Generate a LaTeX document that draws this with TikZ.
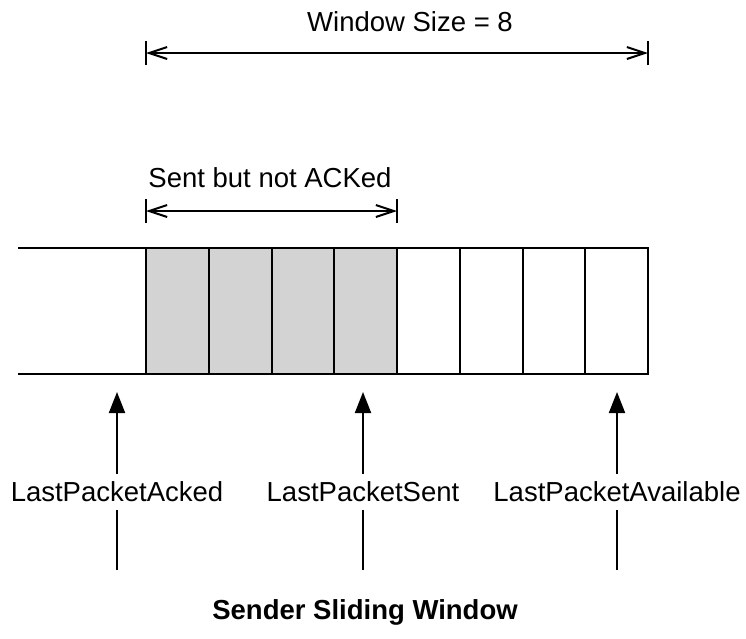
\documentclass[tikz,border=0pt]{standalone}
\usepackage{fontspec}
\setmainfont{Liberation Sans}
\usetikzlibrary{arrows.meta}
\definecolor{sentgray}{HTML}{D3D3D3}
\tikzset{
  cell/.style={draw=black, line width=2pt, minimum width=62.75pt, minimum height=126pt, inner sep=0pt, outer sep=0pt},
  sentcell/.style={cell, fill=sentgray},
  lbl/.style={font=\fontsize{27.5}{33}\selectfont, inner sep=0pt},
  ttl/.style={font=\fontsize{27.5}{33}\selectfont\bfseries, inner sep=0pt},
  spanboth/.style={line width=2pt, {Straight Barb[length=18pt,width=12pt,line width=2pt]}-{Straight Barb[length=18pt,width=12pt,line width=2pt]}},
  barline/.style={line width=2.5pt},
  ptr/.style={line width=2pt, -{Triangle[length=21pt,width=16pt]}},
  ptrline/.style={line width=2pt}
}
\begin{document}
\begin{tikzpicture}[x=1pt,y=-1pt]
\useasboundingbox (0,0) rectangle (746,638);
% cells
\foreach \i/\st in {1/sentcell,2/sentcell,3/sentcell,4/sentcell,5/cell,6/cell,7/cell,8/cell}{
  \node[\st] (c\i) at ({146+62.75*(\i-0.5)},311) {};
}
% left open region
\coordinate (lt) at (18,248);
\coordinate (lb) at (18,374);
\draw[line width=2pt] (lt) -- (c1.north west);
\draw[line width=2pt] (lb) -- (c1.south west);
% window size arrow
\coordinate (wl) at (c1.west |- 0,53);
\coordinate (wr) at (c8.east |- 0,53);
\draw[spanboth] (wl) -- (wr);
\draw[barline] ([yshift=-12pt]wl) -- ([yshift=12pt]wl);
\draw[barline] ([yshift=-12pt]wr) -- ([yshift=12pt]wr);
\node[lbl] (wlab) at (410,22) {Window Size = 8};
% sent but not acked arrow
\coordinate (sl) at (c1.west |- 0,211);
\coordinate (sr) at (c4.east |- 0,211);
\draw[spanboth] (sl) -- (sr);
\draw[barline] ([yshift=-12pt]sl) -- ([yshift=12pt]sl);
\draw[barline] ([yshift=-12pt]sr) -- ([yshift=12pt]sr);
\node[lbl] (slab) at (270,178) {Sent but not ACKed};
% pointers
\node[lbl] (pa) at (117,492) {LastPacketAcked};
\node[lbl] (ps) at (363,492) {LastPacketSent};
\node[lbl] (pv) at (617,492) {LastPacketAvailable};
\coordinate (pat) at (117,392);
\coordinate (pst) at (363,392);
\coordinate (pvt) at (617,392);
\coordinate (pab) at (117,570);
\coordinate (psb) at (363,570);
\coordinate (pvb) at (617,570);
\draw[ptr] ([yshift=8pt]pa.north) -- (pat);
\draw[ptr] ([yshift=8pt]ps.north) -- (pst);
\draw[ptr] ([yshift=8pt]pv.north) -- (pvt);
\draw[ptrline] ([yshift=-8pt]pa.south) -- (pab);
\draw[ptrline] ([yshift=-8pt]ps.south) -- (psb);
\draw[ptrline] ([yshift=-8pt]pv.south) -- (pvb);
% title
\node[ttl] (title) at (365,612) {Sender Sliding Window};
\end{tikzpicture}
\end{document}
